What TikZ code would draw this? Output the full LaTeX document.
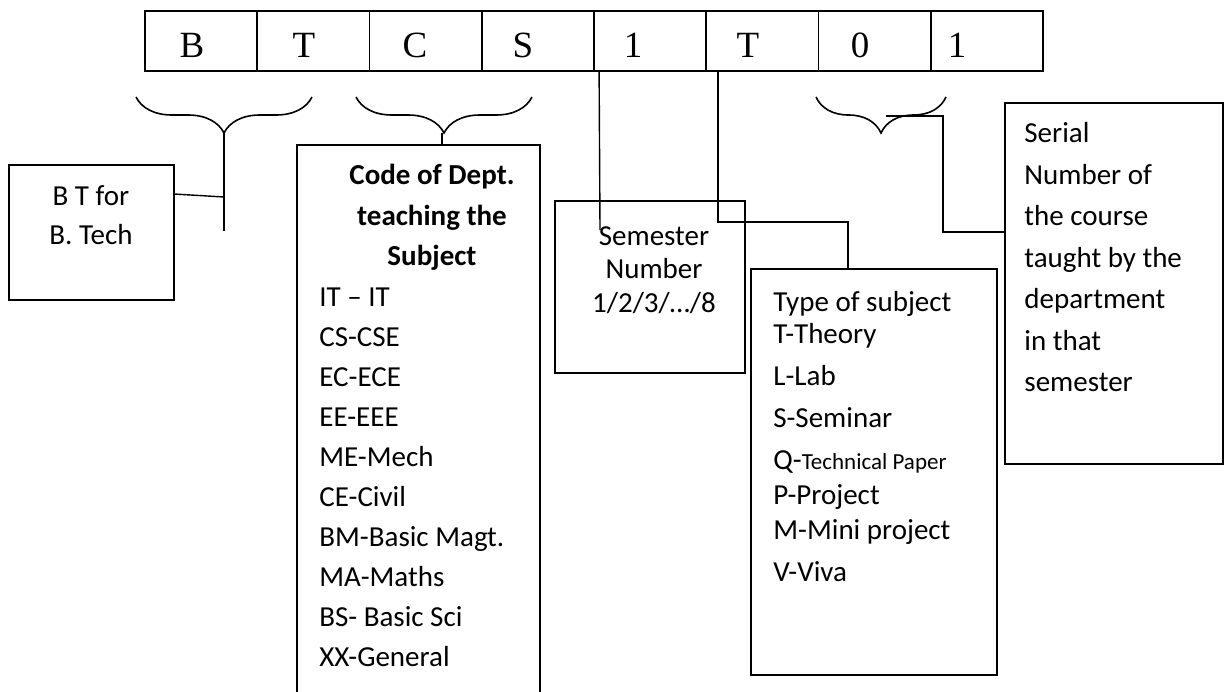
\documentclass[tikz,border=0pt]{standalone}
\usepackage{fontspec}
\setmainfont{Carlito}
\newfontfamily\tablefont{Liberation Serif}
\usetikzlibrary{decorations.pathreplacing, positioning}
\tikzset{
  cell/.style={rectangle, draw, line width=0.9pt, minimum width=56.125pt, minimum height=30pt, inner sep=0pt},
  letter/.style={font=\tablefont\fontsize{18.5}{20}\selectfont, inner sep=0pt},
  infobox/.style={rectangle, draw, line width=0.8pt, inner sep=0pt},
  info/.style={font=\fontsize{14.5}{20}\selectfont, inner sep=0pt},
  brace/.style={decorate, decoration={brace, mirror, amplitude=18pt}, line width=0.8pt},
  link/.style={line width=0.7pt},
}

\begin{document}
\begin{tikzpicture}[x=0.5pt, y=-0.5pt]
  \clip (0,0) rectangle (1224,691);

  % course code cells
  \foreach \i in {1,...,8}
    \node[cell] (c\i) at ({145+112.25*(\i-0.5)},41) {};
  \foreach \l/\x [count=\i] in {B/192,T/304,C/415,S/523,1/633,T/748,0/860,1/957}
    \node[letter] (l\i) at (\x,45) {\l};

  % explanation boxes
  \node[infobox, minimum width=82.5pt, minimum height=67.5pt, anchor=north west] (btbox) at (8,164) {};
  \node[infobox, minimum width=121.5pt, minimum height=300pt, anchor=north west] (codebox) at (296,144) {};
  \node[infobox, minimum width=95pt, minimum height=86pt, anchor=north west] (sembox) at (554,200) {};
  \node[infobox, minimum width=123pt, minimum height=203pt, anchor=north west] (typebox) at (750,268) {};
  \node[infobox, minimum width=109pt, minimum height=180.5pt, anchor=north west] (serialbox) at (1004,102) {};

  % box texts
  \node[info, font=\fontsize{14.5}{19.5}\selectfont, align=center, anchor=north] (bttext) at (91,185) {B T for\\B. Tech};
  \node[info, font=\bfseries\fontsize{14.5}{20.25}\selectfont, align=center, anchor=north] (codetitle) at (432,164)
    {Code of Dept.\\teaching the\\Subject};
  \node[info, align=left, anchor=north west] (codelist) at (319,287)
    {IT – IT\\CS-CSE\\EC-ECE\\EE-EEE\\ME-Mech\\CE-Civil\\BM-Basic Magt.\\MA-Maths\\BS- Basic Sci\\XX-General};
  \node[info, font=\fontsize{14.5}{16.75}\selectfont, align=center, anchor=north] (semtext) at (654,226)
    {Semester\\Number\\1/2/3/…/8};
  \node[info, font=\fontsize{14.5}{21}\selectfont, align=left, anchor=north west] (typetext) at (773,291)
    {Type of subject\\[-5pt]T-Theory\\L-Lab\\S-Seminar\\Q-{\fontsize{11.5}{14}\selectfont Technical Paper}\\[-3.5pt]P-Project\\[-3.5pt]M-Mini project\\V-Viva};
  \node[info, font=\fontsize{14.5}{20.75}\selectfont, align=left, anchor=north west] (serialtext) at (1024,122)
    {Serial\\Number of\\the course\\taught by the\\department\\in that\\semester};

  % braces
  \draw[brace] (136,97) -- (312,97);
  \draw[brace] (356,97) -- (532,97);
  \draw[brace] (816,97) -- (946,97);

  % connectors
  \coordinate (bttip) at (224,133);
  \coordinate (btstem) at (224,231);
  \coordinate (btout) at (174,194);
  \draw[link] (bttip) -- (btstem);
  \draw[link] (btout) -- (bttip |- 0,197);
  \coordinate (cstip) at (442,133);
  \draw[link] (cstip) -- (cstip |- codebox.north);
  \coordinate (semend) at (600,230);
  \draw[link] ([xshift=3pt]c5.south west) -- (semend);
  \coordinate (typejoin) at (848,222);
  \draw[link] ([xshift=6.25pt]c6.south west) |- (typejoin) -- (typejoin |- typebox.north);
  \coordinate (sntip) at (886,116);
  \coordinate (snbend) at (943,232);
  \draw[link] (sntip) -| (snbend) -- (snbend -| serialbox.west);
\end{tikzpicture}
\end{document}
